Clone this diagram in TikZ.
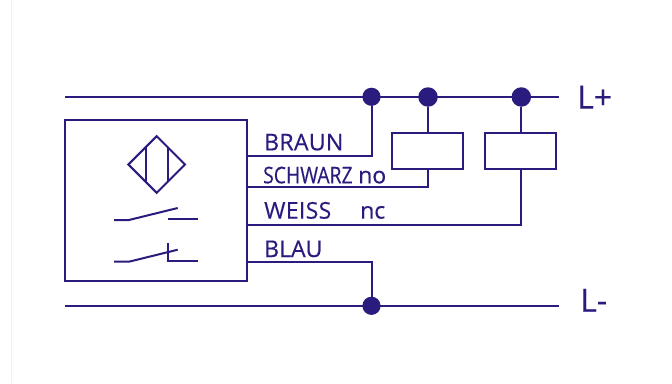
\documentclass[tikz,border=0pt]{standalone}
\usepackage{fontspec}
\setmainfont{Open Sans}[FakeBold=0.35]
\definecolor{wire}{HTML}{2A1C7E}
\definecolor{edgeline}{HTML}{F3EEF1}
\tikzset{
  x=1pt,y=-1pt,
  wireline/.style={draw=wire,line width=2pt},
  thinwire/.style={draw=wire,line width=2pt},
  junction/.style={circle,fill=wire,draw=none,minimum size=18.2pt,inner sep=0pt},
  bigjunction/.style={junction,minimum size=19.5pt},
  relaybox/.style={draw=wire,fill=white,line width=2pt,minimum width=70.5pt,minimum height=35.5pt,inner sep=0pt},
  wirelabel/.style={anchor=base west,inner sep=0pt,text=wire,font=\fontsize{23}{25}\selectfont},
  powerlabel/.style={anchor=base west,inner sep=0pt,text=wire,font=\fontsize{32}{34}\selectfont},
}
\begin{document}
\begin{tikzpicture}
\useasboundingbox (0,0) rectangle (672,383);
\fill[white] (0,0) rectangle (672,383);
\draw[edgeline,line width=1pt] (11.5,0) -- (11.5,383);

% supply rails
\coordinate (lpstart) at (65,97);
\coordinate (lpend) at (559,97);
\coordinate (lmstart) at (65,306.3);
\coordinate (lmend) at (559,306.3);
\draw[wireline] (lpstart) -- (lpend);
\draw[wireline] (lmstart) -- (lmend);

% sensor box
\node[draw=wire,line width=2pt,outer sep=0pt,minimum width=182pt,minimum height=160.5pt,inner sep=0pt,anchor=north west] (sensor) at (65,120.2) {};

% relays
\node[relaybox] (relayA) at (427.5,151) {};
\node[relaybox] (relayB) at (520.5,151) {};

% junctions
\node[junction] (jBraun) at (371.5,96.8) {};
\node[bigjunction] (jRelayA) at (428,97) {};
\node[bigjunction] (jRelayB) at (521.3,97) {};
\node[junction] (jBlau) at (371.5,305.8) {};

% terminals on box
\coordinate (tBraun) at (247,156);
\coordinate (tSchwarz) at (247,187);
\coordinate (tWeiss) at (247,224.7);
\coordinate (tBlau) at (247,261.7);

\draw[wireline] (tBraun) -| (jBraun);
\draw[wireline] (tSchwarz) -| (jRelayA |- relayA.south);
\draw[wireline] (tWeiss) -| (jRelayB |- relayB.south);
\draw[wireline] (tBlau) -| (jBlau);
\draw[wireline] (jRelayA) -- (jRelayA |- relayA.north);
\draw[wireline] (jRelayB) -- (jRelayB |- relayB.north);

% proximity symbol
\draw[thinwire,line join=miter] (128.4,164.5) -- (156.7,136.2) -- (185,164.5) -- (156.7,192.8) -- cycle;
\draw[thinwire] (146,147) -- (146,182);
\draw[thinwire] (167.7,147) -- (167.7,182);

% normally open contact
\draw[thinwire] (114,220) -- (129,220) -- (177.7,208);
\draw[thinwire] (167.7,219.3) -- (197.7,219.3);

% normally closed contact
\draw[thinwire] (114,261.7) -- (129,261.7) -- (177.7,249.7);
\draw[thinwire] (168,243.3) -- (168,261.3) -- (197.7,261.3);

% labels
\node[wirelabel] (lBraun) at (264,150.3) {\addfontfeature{LetterSpace=1.5}BRAUN};
\node[wirelabel] (lSchwarz) at (263,183.3) {\scalebox{0.84}[1]{SCHWARZ}};
\node[wirelabel] (lNo) at (358,183.3) {no};
\node[wirelabel] (lWeiss) at (264,218.6) {\addfontfeature{LetterSpace=1.5}WEISS};
\node[wirelabel] (lNc) at (360,218.6) {nc};
\node[wirelabel] (lBlau) at (264,257) {BLAU};
\node[powerlabel] (lPlus) at (577,108.6) {L+};
\node[powerlabel] (lMinus) at (580,311.7) {L-};
\end{tikzpicture}
\end{document}
